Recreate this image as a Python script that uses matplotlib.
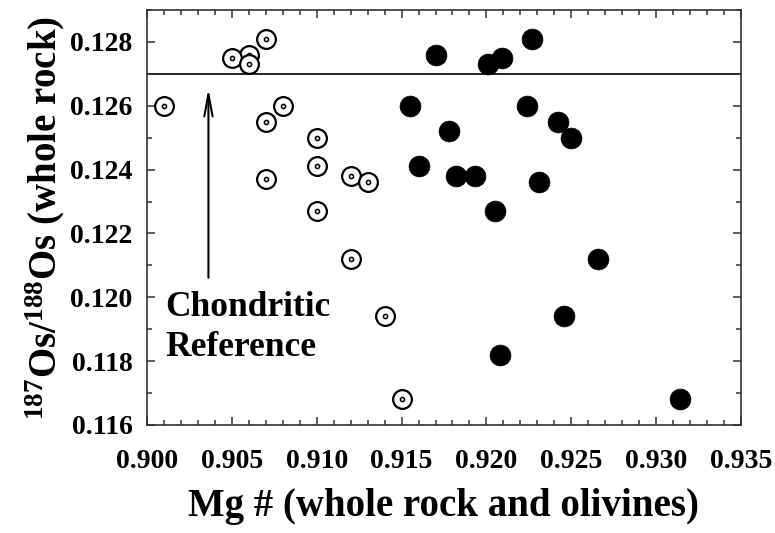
import matplotlib
matplotlib.use("Agg")
import matplotlib.pyplot as plt
from matplotlib.ticker import MultipleLocator, FormatStrFormatter

plt.rcParams['font.family'] = ['Liberation Serif', 'DejaVu Serif']
plt.rcParams['font.weight'] = 'bold'
plt.rcParams['mathtext.fontset'] = 'custom'
plt.rcParams['mathtext.rm'] = 'Liberation Serif:bold'
plt.rcParams['mathtext.it'] = 'Liberation Serif:bold'
plt.rcParams['mathtext.bf'] = 'Liberation Serif:bold'

#---------------------------------------Data------------------------------------

# Mg# of whole rock (open symbols)
mg_whole_rock = [0.9060, 0.9010, 0.9050, 0.9060, 0.9070, 0.9080, 0.9070, 0.9100,
                 0.9100, 0.9070, 0.9120, 0.9130, 0.9100, 0.9120, 0.9140, 0.9150]
os_whole_rock = [0.1276, 0.1260, 0.1275, 0.1273, 0.1281, 0.1260, 0.1255, 0.1250,
                 0.1241, 0.1237, 0.1238, 0.1236, 0.1227, 0.1212, 0.1194, 0.1168]

# Mg# of olivines (filled symbols)
mg_olivine = [0.9170, 0.9155, 0.9178, 0.9160, 0.9182, 0.9193, 0.9201, 0.9209, 0.9227,
              0.9224, 0.9242, 0.9250, 0.9231, 0.9205, 0.9266, 0.9246, 0.9208, 0.9314]
os_olivine = [0.1276, 0.1260, 0.1252, 0.1241, 0.1238, 0.1238, 0.1273, 0.1275, 0.1281,
              0.1260, 0.1255, 0.1250, 0.1236, 0.1227, 0.1212, 0.1194, 0.1182, 0.1168]

chondritic_os = 0.127

#---------------------------------------Plot------------------------------------

fig = plt.figure(figsize=(7.75, 5.33), dpi=100)
ax = fig.add_axes([147/775, 1 - 425/533, (741-147)/775, (425-10)/533])

ax.axhline(chondritic_os, color='black', lw=1.2, zorder=1)

# open circles with a small dot in the middle, drawn one by one so overlaps stack
for mx, oy in zip(mg_whole_rock, os_whole_rock):
    ax.plot(mx, oy, 'o', ms=13.5, mfc='white', mec='black', mew=1.6, zorder=3)
    ax.plot(mx, oy, 'o', ms=3.0, mfc='white', mec='black', mew=1.1, zorder=3)

ax.plot(mg_olivine, os_olivine, 'o', ms=15, mfc='black', mec='black', mew=0.5,
        linestyle='none', zorder=3)

# arrow pointing up to the chondritic line
ax.annotate('', xy=(0.90362, 0.12654), xytext=(0.90362, 0.12061),
            arrowprops=dict(arrowstyle='->, head_length=0.8, head_width=0.15',
                            lw=1.5, color='black', mutation_scale=20,
                            shrinkA=0, shrinkB=0))
ax.text(0.9011, 0.11816, 'Chondritic\nReference', fontsize=25.5, fontweight='bold',
        ha='left', va='baseline', linespacing=1.27)

ax.set_xlim(0.900, 0.935)
ax.set_ylim(0.116, 0.129)
ax.xaxis.set_major_locator(MultipleLocator(0.005))
ax.xaxis.set_minor_locator(MultipleLocator(0.001))
ax.yaxis.set_major_locator(MultipleLocator(0.002))
ax.yaxis.set_minor_locator(MultipleLocator(0.001))
ax.xaxis.set_major_formatter(FormatStrFormatter('%.3f'))
ax.yaxis.set_major_formatter(FormatStrFormatter('%.3f'))

for s in ax.spines.values():
    s.set_color('#333333')
    s.set_linewidth(1.2)
ax.tick_params(which='both', direction='in', top=True, right=True,
               color='#333333', width=1.1)
ax.tick_params(which='major', length=6, labelsize=20)
ax.tick_params(which='minor', length=3.5)
ax.tick_params(axis='x', pad=17)
ax.tick_params(axis='y', pad=10.5)

ax.set_xlabel('Mg # (whole rock and olivines)', fontsize=28, fontweight='bold')
ax.set_ylabel(r'$^{187}$Os/$^{188}$Os (whole rock)', fontsize=28,
              fontweight='bold')
ax.xaxis.set_label_coords(0.5, -0.152)
ax.yaxis.set_label_coords(-0.135, 0.5)

fig.savefig('out.png', dpi=100)
